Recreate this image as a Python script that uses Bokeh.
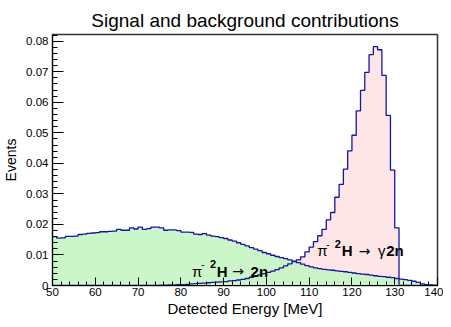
import numpy as np
from bokeh.plotting import figure
from bokeh.models import Range1d, FixedTicker, Label
from bokeh.embed import file_html
from bokeh.resources import INLINE

# ---- data (1 MeV bins, 50..140 MeV) ----
bin_edges_lo = 50
bin_edges_hi = 140
background = [
    0.0160, 0.0155, 0.0156, 0.0161, 0.0161, 0.0162, 0.0167, 0.0168, 0.0171, 0.0172,
    0.0173, 0.0176, 0.0176, 0.0177, 0.0178, 0.0184, 0.0181, 0.0181, 0.0189, 0.0185,
    0.0191, 0.0184, 0.0186, 0.0191, 0.0191, 0.0189, 0.0181, 0.0182, 0.0182, 0.0180,
    0.0175, 0.0175, 0.0174, 0.0168, 0.0167, 0.0170, 0.0165, 0.0162, 0.0160, 0.0157,
    0.0154, 0.0149, 0.0145, 0.0140, 0.0135, 0.0130, 0.0124, 0.0119, 0.0114, 0.0108,
    0.0104, 0.0099, 0.0095, 0.0091, 0.0088, 0.0084, 0.0080, 0.0075, 0.0070, 0.0065,
    0.0061, 0.0058, 0.0055, 0.0053, 0.0051, 0.0050, 0.0048, 0.0046, 0.0045, 0.0043,
    0.0041, 0.0039, 0.0037, 0.0036, 0.0034, 0.0032, 0.0030, 0.0029, 0.0027, 0.0026,
    0.0023, 0.0021, 0.0019, 0.0017, 0.0014, 0.0010, 0.0005, 0.0003, 0.0002, 0.0000,
]
signal = [
    0.0, 0.0, 0.0, 0.0, 0.0, 0.0, 0.0, 0.0, 0.0, 0.0,
    0.0, 0.0, 0.0, 0.0, 0.0, 0.0, 0.0, 0.0, 0.0, 0.0,
    0.0, 0.0, 0.0, 0.0, 0.0, 0.0001, 0.0001, 0.0002, 0.0002, 0.0003,
    0.0003, 0.0004, 0.0005, 0.0006, 0.0007, 0.0008, 0.0009, 0.0010, 0.0011, 0.0012,
    0.0013, 0.0015, 0.0016, 0.0018, 0.0020, 0.0023, 0.0027, 0.0031, 0.0035, 0.0039,
    0.0043, 0.0047, 0.0052, 0.0058, 0.0064, 0.0071, 0.0078, 0.0084, 0.0094, 0.0110,
    0.0126, 0.0144, 0.0163, 0.0184, 0.0215, 0.0239, 0.0289, 0.0331, 0.0381, 0.0441,
    0.0492, 0.0572, 0.0639, 0.0698, 0.0756, 0.0782, 0.0772, 0.0688, 0.0557, 0.0378,
    0.0189, 0.0, 0.0, 0.0, 0.0, 0.0, 0.0, 0.0, 0.0, 0.0,
]
x_ticks = [50, 60, 70, 80, 90, 100, 110, 120, 130, 140]
y_ticks = [0, 0.01, 0.02, 0.03, 0.04, 0.05, 0.06, 0.07, 0.08]
y_tick_labels = ["0", "0.01", "0.02", "0.03", "0.04", "0.05", "0.06", "0.07", "0.08"]
y_max = 0.0822

title_text = "Signal and background contributions"
x_label = "Detected Energy [MeV]"
y_label = "Events"

FONT = "Liberation Sans"
LINE = "#16169a"
GREEN = "#c4f5c4"
PINK = "#fee6e8"


def step_path(vals):
    edges = np.arange(bin_edges_lo, bin_edges_hi + 1)
    xs = np.concatenate([[edges[0]], np.repeat(edges, 2)[1:-1], [edges[-1]]])
    ys = np.concatenate([[0.0], np.repeat(np.asarray(vals), 2), [0.0]])
    return xs, ys


p = figure(width=443, height=319, output_backend="svg", toolbar_location=None,
           x_range=Range1d(bin_edges_lo, bin_edges_hi), y_range=Range1d(0, y_max),
           min_border_left=52, min_border_right=6, min_border_top=34, min_border_bottom=29)
p.grid.visible = False
p.outline_line_color = "#333333"
p.outline_line_width = 1.5
p.background_fill_color = "white"

p.title.text = title_text
p.title.align = "center"
p.title.text_font = FONT
p.title.text_font_size = "19px"
p.title.text_font_style = "normal"
p.title.text_color = "black"
p.title.standoff = 7

sx, sy = step_path(signal)
bx, by = step_path(background)
p.varea(x=sx, y1=0, y2=sy, fill_color=PINK)
p.varea(x=bx, y1=0, y2=by, fill_color=GREEN, fill_alpha=0.9)
p.line(sx, sy, line_color=LINE, line_width=1.3)
p.line(bx, by, line_color=LINE, line_width=1.3)

# axes
xa = p.xaxis[0]
xa.ticker = FixedTicker(ticks=x_ticks, minor_ticks=list(range(50, 141, 2)))
xa.major_tick_in = 8
xa.major_tick_out = 0
xa.minor_tick_in = 4
xa.minor_tick_out = 0
xa.major_label_standoff = 2
xa.major_label_text_font = FONT
xa.major_label_text_font_size = "11.5px"
xa.major_label_text_color = "black"
xa.axis_line_color = "black"
xa.axis_label = x_label
xa.axis_label_text_font = FONT
xa.axis_label_text_font_size = "15px"
xa.axis_label_text_font_style = "normal"
xa.axis_label_text_color = "black"
xa.axis_label_standoff = 1

ya = p.yaxis[0]
ya.ticker = FixedTicker(ticks=y_ticks, minor_ticks=[i * 0.002 for i in range(0, 42)])
ya.major_label_overrides = {t: l for t, l in zip(y_ticks, y_tick_labels)}
ya.major_tick_in = 11
ya.major_tick_out = 0
ya.minor_tick_in = 5
ya.minor_tick_out = 0
ya.major_label_standoff = 4
ya.major_label_text_font = FONT
ya.major_label_text_font_size = "11.5px"
ya.major_label_text_color = "black"
ya.axis_line_color = "black"
ya.axis_label = y_label
ya.axis_label_text_font = FONT
ya.axis_label_text_font_size = "14px"
ya.axis_label_text_font_style = "normal"
ya.axis_label_text_color = "black"
ya.axis_label_standoff = 4

# annotations: (x, y, y_offset, text, font, style, size)
ARROW_FONT = "DejaVu Sans"
bg_pieces = [
    (82.6, 0.0046, 0, "π", FONT, "normal", "15px"),
    (84.8, 0.0046, 7, "-", FONT, "normal", "10px"),
    (86.8, 0.0046, 7, "2", FONT, "bold", "11px"),
    (88.4, 0.0046, 0, "H", FONT, "bold", "15px"),
    (92.0, 0.0046, 0, "→", ARROW_FONT, "normal", "14px"),
    (96.3, 0.0046, 0, "2n", FONT, "bold", "15px"),
]
sig_pieces = [
    (111.9, 0.0113, 0, "π", FONT, "normal", "15px"),
    (114.0, 0.0113, 7, "-", FONT, "normal", "10px"),
    (116.0, 0.0113, 7, "2", FONT, "bold", "11px"),
    (117.6, 0.0113, 0, "H", FONT, "bold", "15px"),
    (121.6, 0.0113, 0, "→", ARROW_FONT, "normal", "14px"),
    (126.1, 0.0113, 0, "γ", FONT, "normal", "15px"),
    (128.0, 0.0113, 0, "2n", FONT, "bold", "15px"),
]
for (x, y, yo, t, fnt, st, sz) in bg_pieces + sig_pieces:
    p.add_layout(Label(x=x, y=y, y_offset=yo, text=t, text_font=fnt, text_font_style=st,
                       text_font_size=sz, text_baseline="alphabetic", text_align="left",
                       text_color="black"))

open("out.html", "w").write(file_html(p, INLINE))
